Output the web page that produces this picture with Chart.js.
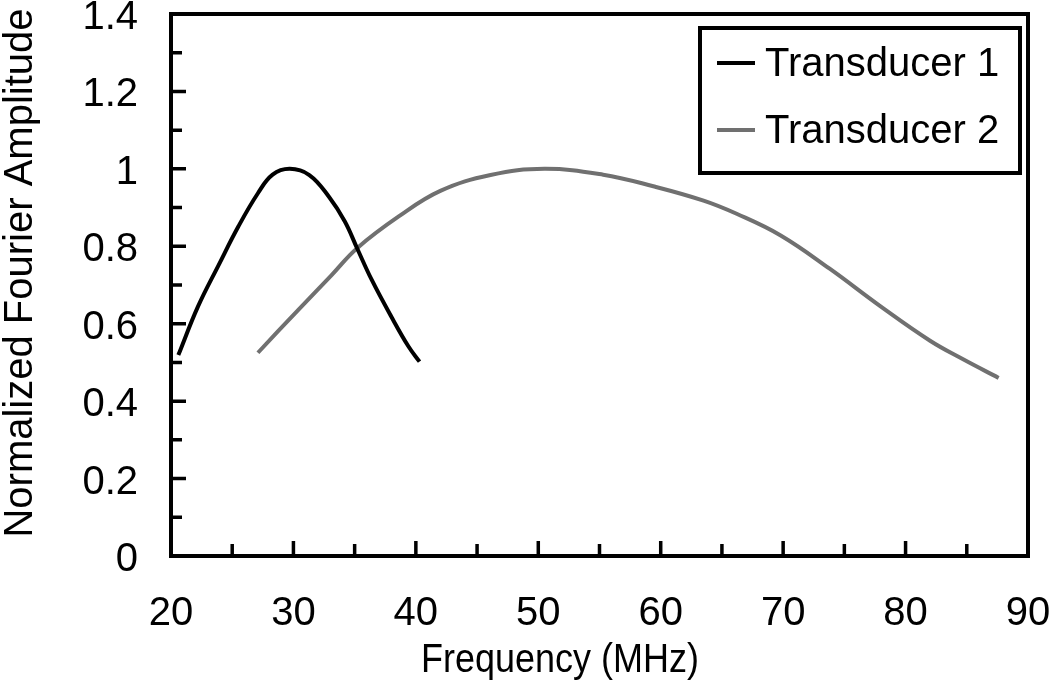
<!DOCTYPE html>
<html>
<head>
<meta charset="utf-8">
<script src="https://cdn.jsdelivr.net/npm/chart.js@4.4.1/dist/chart.umd.min.js"></script>
<style>
  body { margin: 0; background: #fff; }
  #wrap { width: 1050px; height: 693px; position: relative; }
</style>
</head>
<body>
<div id="wrap"><canvas id="spectrumChart"></canvas></div>
<script>
// values
const t1Freq = [20.6, 22.2, 23.9, 25.5, 27.1, 28.3, 29.7, 31.3, 32.9, 34.2, 35.2, 36.4, 38.0, 39.4, 40.3];
const t1Amp  = [0.519, 0.644, 0.752, 0.851, 0.937, 0.985, 1.0, 0.984, 0.928, 0.864, 0.795, 0.713, 0.618, 0.541, 0.502];

const t2Freq = [27.1, 30.4, 33.1, 35.2, 38.6, 42.0, 46.1, 50.5, 55.3, 59.4, 63.5, 66.2, 69.8, 73.8, 77.9, 82.0, 84.7, 87.6];
const t2Amp  = [0.525, 0.636, 0.725, 0.795, 0.877, 0.943, 0.984, 1.0, 0.985, 0.955, 0.918, 0.884, 0.828, 0.742, 0.646, 0.556, 0.508, 0.46];

const seriesLabels = ['Transducer 1', 'Transducer 2'];
const seriesColors = ['#000000', 'rgb(112,112,112)'];

const xTitle = 'Frequency (MHz)';
const yTitle = 'Normalized Fourier Amplitude';

const FONT = "'Liberation Sans', Arial, sans-serif";

function toPoints(xs, ys) {
    return xs.map(function(x, i) { return { x: x, y: ys[i] }; });
}

// kill the label overhang padding so the plot box sits where it should
function noPad(scale) {
    scale.paddingTop = 0;
    scale.paddingBottom = 0;
    scale.paddingLeft = 0;
    scale.paddingRight = 0;
}

// box, inward ticks, axis titles and boxed legend
const framePlugin = {
    id: 'frame',
    afterDraw: function(chart) {
        const c = chart.ctx;
        const a = chart.chartArea;
        const xs = chart.scales.x;
        const ys = chart.scales.y;
        c.save();
        c.strokeStyle = '#000';
        c.lineWidth = 4;
        c.strokeRect(a.left, a.top, a.right - a.left, a.bottom - a.top);

        c.lineWidth = 3.5;
        c.beginPath();
        for (let v = 0; v <= 14; v++) {
            const py = ys.getPixelForValue(v / 10);
            const len = v % 2 === 0 ? 15 : 11;
            c.moveTo(a.left, py);
            c.lineTo(a.left + len, py);
        }
        for (let v = 20; v <= 90; v += 5) {
            const px = xs.getPixelForValue(v);
            const len = v % 10 === 0 ? 15 : 12;
            c.moveTo(px, a.bottom);
            c.lineTo(px, a.bottom - len);
        }
        c.stroke();

        // titles
        c.fillStyle = '#000';
        c.font = '40px ' + FONT;
        c.textAlign = 'center';
        c.textBaseline = 'alphabetic';
        c.fillText(xTitle, 560, 672, 278);
        c.save();
        c.translate(32, 273);
        c.rotate(-Math.PI / 2);
        c.fillText(yTitle, 0, 0, 540);
        c.restore();

        // legend
        c.lineWidth = 4;
        c.strokeRect(700, 28, 320, 145);
        const rows = [63, 130];
        chart.data.datasets.forEach(function(ds, i) {
            c.strokeStyle = ds.borderColor;
            c.lineWidth = 4;
            c.beginPath();
            c.moveTo(717, rows[i]);
            c.lineTo(755, rows[i]);
            c.stroke();
            c.fillStyle = '#000';
            c.textAlign = 'left';
            c.textBaseline = 'middle';
            c.fillText(ds.label, 765, rows[i] + 2);
        });
        c.restore();
    }
};

const ctx = document.getElementById('spectrumChart').getContext('2d');
const spectrumChart = new Chart(ctx, {
    type: 'scatter',
    data: {
        datasets: [{
            label: seriesLabels[0],
            data: toPoints(t1Freq, t1Amp),
            showLine: true,
            borderColor: seriesColors[0],
            borderWidth: 4,
            pointRadius: 0,
            tension: 0.4
        }, {
            label: seriesLabels[1],
            data: toPoints(t2Freq, t2Amp),
            showLine: true,
            borderColor: seriesColors[1],
            borderWidth: 4,
            pointRadius: 0,
            tension: 0.4
        }]
    },
    options: {
        responsive: true,
        maintainAspectRatio: false,
        animation: false,
        layout: {
            autoPadding: false,
            padding: { top: 14, right: 22, bottom: 0, left: 0 }
        },
        plugins: {
            legend: { display: false },
            tooltip: { enabled: false }
        },
        scales: {
            x: {
                type: 'linear',
                min: 20,
                max: 90,
                afterFit: function(scale) { scale.height = 137; noPad(scale); },
                border: { display: false },
                grid: { display: false, drawTicks: false },
                ticks: {
                    stepSize: 10,
                    color: '#000',
                    padding: 34,
                    maxRotation: 0,
                    font: { family: FONT, size: 40 }
                }
            },
            y: {
                min: 0,
                max: 1.4,
                afterFit: function(scale) { scale.width = 171; noPad(scale); },
                border: { display: false },
                grid: { display: false, drawTicks: false },
                ticks: {
                    stepSize: 0.2,
                    color: '#000',
                    padding: 33,
                    labelOffset: 4,
                    font: { family: FONT, size: 40 },
                    callback: function(value) { return String(Math.round(value * 10) / 10); }
                }
            }
        }
    },
    plugins: [framePlugin]
});
</script>
</body>
</html>
